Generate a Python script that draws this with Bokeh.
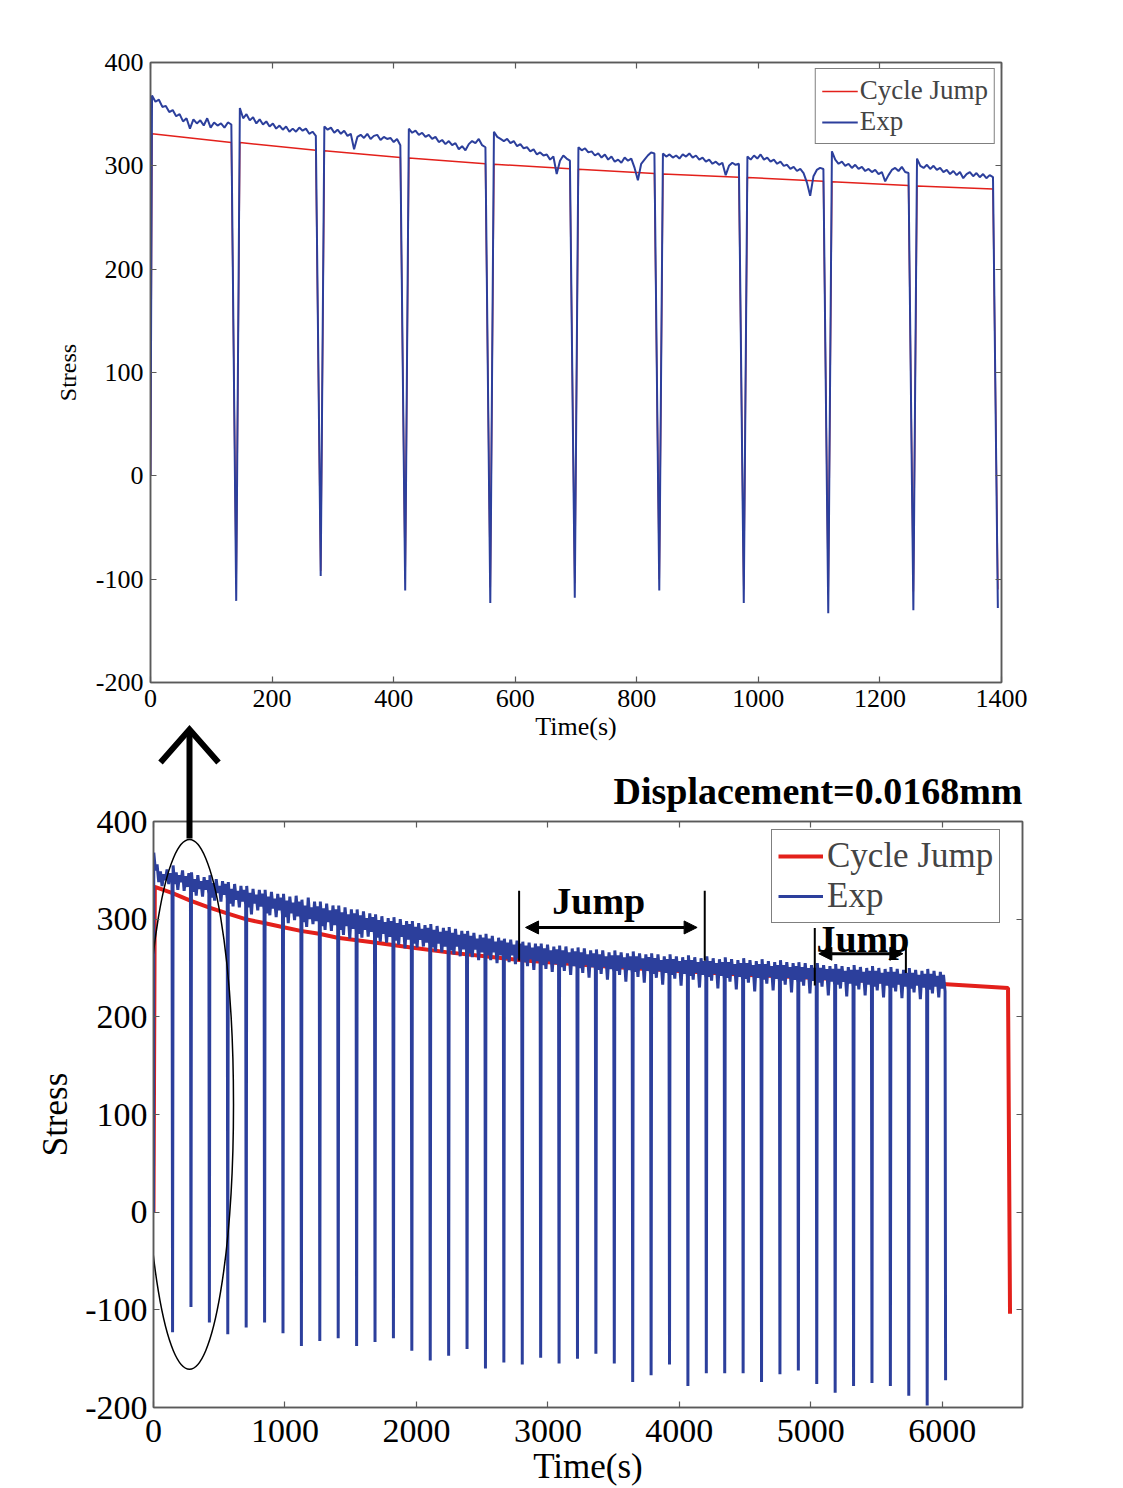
import numpy as np
from bokeh.plotting import figure
from bokeh.models import (Range1d, FixedTicker, LinearAxis, Legend, LegendItem,
                          Arrow, NormalHead, Label)
from bokeh.embed import file_html
from bokeh.resources import INLINE

FONT = "Liberation Serif"
BLUE = "#2C3F9C"
RED = "#E3201B"
AXC = "#5a5a5a"

# ---------------- upper panel data (0-1400 s) ----------------
top_spike_t = [141, 280, 419, 559, 698, 837, 976, 1115, 1255, 1394]
top_spike_min = [-121, -97, -111, -123, -118, -111, -123, -133, -130, -128]
top_red_spike_min = [-105, -92, -100, -108, -104, -100, -110, -115, -112, -110]
top_red_start = [331, 322.5, 314.5, 307.5, 301.6, 296.8, 292, 288.7, 284.5, 280.6]
top_red_end = [322.6, 315, 308, 302, 297.2, 292.5, 289, 285, 281, 277.5]
top_exp_cycles = [
    [368, 362, 364, 357, 358, 352, 354, 348, 350, 343, 346, 336, 345, 341, 344, 339, 346, 337, 342, 339, 341, 337, 342, 340],
    [356, 346, 350, 344, 347, 341, 345, 340, 343, 338, 341, 336, 339, 335, 338, 333, 336, 333, 337, 334, 336, 331, 333, 329],
    [338, 335, 337, 332, 335, 331, 334, 329, 331, 316, 328, 330, 327, 331, 326, 329, 330, 325, 328, 326, 327, 323, 326, 320],
    [336, 332, 334, 330, 332, 328, 330, 326, 328, 323, 325, 321, 324, 320, 322, 316, 319, 315, 321, 324, 322, 326, 320, 318],
    [333, 328, 326, 324, 326, 322, 324, 319, 321, 317, 318, 314, 316, 311, 313, 310, 311, 306, 309, 292, 305, 310, 307, 305],
    [318, 315, 317, 313, 314, 310, 312, 308, 311, 306, 309, 304, 306, 303, 308, 305, 307, 298, 286, 302, 306, 310, 313, 312],
    [312, 309, 311, 308, 310, 307, 311, 309, 312, 308, 310, 306, 308, 304, 306, 302, 304, 301, 303, 291, 300, 303, 301, 302],
    [309, 306, 310, 307, 311, 306, 308, 304, 306, 302, 304, 300, 301, 297, 299, 295, 297, 293, 284, 271, 290, 296, 298, 297],
    [314, 306, 302, 304, 300, 302, 298, 301, 297, 299, 295, 297, 294, 296, 292, 294, 285, 291, 296, 298, 295, 299, 294, 293],
    [307, 300, 298, 301, 297, 300, 296, 298, 294, 296, 292, 295, 291, 294, 288, 292, 294, 290, 293, 289, 292, 288, 291, 289],
]

# ---------------- lower panel data (0-6600 s) ----------------
bot_spike_t = [145, 285, 425, 565, 705, 845, 985, 1125, 1265, 1405, 1545, 1685, 1825, 1965,
               2105, 2245, 2385, 2525, 2665, 2805, 2945, 3085, 3225, 3365, 3505, 3645, 3785,
               3925, 4065, 4205, 4345, 4485, 4625, 4765, 4905, 5045, 5185, 5325, 5465, 5605,
               5745, 5885, 6025]
bot_spike_min = [-123, -97, -113, -125, -118, -113, -124, -137, -132, -129, -137, -133, -129,
                 -142, -152, -147, -140, -160, -154, -156, -149, -155, -150, -145, -155, -174,
                 -167, -156, -178, -165, -165, -165, -174, -166, -162, -176, -185, -178, -175,
                 -178, -188, -198, -172]
bot_exp_cycles = [
    [368, 350, 356, 338, 349, 334, 346, 340, 351, 336, 347, 341],
    [355, 336, 348, 330, 345, 338, 350, 329, 344, 333, 347, 332],
    [348, 328, 341, 324, 345, 331, 339, 323, 343, 330, 340, 326],
    [345, 322, 337, 319, 341, 327, 334, 318, 339, 325, 336, 321],
    [338, 316, 331, 313, 336, 320, 329, 312, 334, 318, 330, 315],
    [334, 312, 327, 305, 331, 316, 325, 309, 330, 313, 326, 310],
    [330, 306, 323, 304, 328, 311, 321, 302, 326, 309, 322, 305],
    [326, 302, 319, 296, 323, 306, 317, 299, 324, 303, 318, 300],
    [320, 297, 314, 292, 322, 300, 312, 295, 318, 298, 313, 296],
    [318, 293, 311, 289, 316, 297, 309, 288, 314, 294, 310, 292],
    [314, 289, 307, 284, 312, 293, 305, 280, 310, 290, 306, 288],
    [310, 285, 304, 281, 308, 289, 301, 282, 306, 287, 302, 284],
    [305, 281, 299, 277, 303, 285, 297, 276, 301, 282, 298, 280],
    [302, 278, 296, 274, 300, 282, 294, 270, 298, 279, 295, 277],
    [298, 275, 292, 271, 296, 279, 290, 272, 294, 276, 291, 274],
    [295, 271, 289, 267, 293, 275, 287, 266, 291, 272, 288, 270],
    [292, 268, 286, 264, 290, 272, 284, 262, 288, 269, 285, 267],
    [288, 265, 283, 261, 286, 269, 280, 258, 284, 266, 281, 264],
    [285, 263, 280, 258, 283, 266, 277, 255, 281, 263, 278, 261],
    [280, 259, 276, 256, 279, 263, 274, 254, 278, 260, 275, 258],
    [277, 256, 273, 252, 276, 259, 271, 248, 275, 257, 272, 255],
    [275, 253, 270, 249, 274, 257, 268, 246, 272, 254, 269, 252],
    [273, 251, 268, 247, 272, 255, 266, 243, 270, 252, 267, 250],
    [271, 250, 266, 245, 270, 253, 264, 240, 268, 251, 265, 248],
    [269, 248, 264, 244, 268, 251, 262, 238, 266, 249, 263, 246],
    [268, 247, 263, 243, 266, 250, 261, 236, 265, 248, 262, 245],
    [267, 246, 262, 241, 265, 249, 260, 235, 264, 247, 261, 244],
    [265, 244, 260, 240, 264, 247, 258, 233, 262, 245, 259, 242],
    [264, 243, 259, 239, 262, 246, 257, 232, 261, 244, 258, 241],
    [263, 242, 258, 238, 261, 245, 256, 230, 260, 243, 257, 240],
    [262, 241, 257, 237, 260, 244, 255, 229, 259, 242, 256, 239],
    [261, 240, 256, 236, 259, 243, 254, 228, 258, 241, 255, 238],
    [260, 239, 255, 235, 258, 242, 253, 226, 257, 240, 254, 237],
    [259, 238, 254, 234, 257, 241, 252, 227, 256, 239, 253, 236],
    [258, 237, 253, 233, 256, 240, 251, 225, 255, 238, 252, 235],
    [256, 236, 251, 232, 255, 239, 250, 224, 253, 237, 250, 234],
    [255, 235, 250, 231, 253, 238, 249, 222, 252, 236, 249, 233],
    [254, 233, 249, 229, 252, 236, 247, 221, 251, 234, 248, 231],
    [253, 232, 248, 228, 251, 235, 246, 222, 250, 233, 247, 230],
    [252, 231, 247, 227, 250, 234, 245, 220, 249, 232, 246, 229],
    [251, 230, 246, 226, 249, 233, 244, 219, 248, 231, 245, 228],
    [250, 229, 245, 225, 248, 232, 243, 218, 247, 230, 244, 227],
    [249, 228, 244, 224, 247, 231, 242, 220, 246, 229, 243, 226],
]
bot_red_t = [0, 10, 140, 280, 420, 560, 700, 840, 980, 1120, 1260, 1400, 1680, 1960, 2240,
             2520, 2800, 3080, 3500, 4000, 4500, 5000, 5500, 6000, 6500, 6515]
bot_red = [0, 333, 327, 319, 312, 306, 300, 296, 292, 288, 285, 281, 276, 271, 266,
           262, 258, 255, 251, 247, 243, 240, 236.5, 233.5, 229.5, -104]

# tick labels
top_xticks = [0, 200, 400, 600, 800, 1000, 1200, 1400]
bot_xticks = [0, 1000, 2000, 3000, 4000, 5000, 6000]
yticks = [-200, -100, 0, 100, 200, 300, 400]
ytick_labels = ["-200", "-100", "0", "100", "200", "300", "400"]

# annotation anchors (data units of the lower panel)
ELLIPSE = dict(x=274, y=110.3, w=669, h=542.6)
JUMP1 = dict(tx=3387, ty=319, ax0=2830, ax1=4135, ay=291.5, b0=2781, b1=4193, b_lo=257.5, b_hi=329)
JUMP2 = dict(tx=5396, ty=280, ax0=5061, ax1=5700, ay=264.6, b0=5030, b0lo=232, b0hi=291,
             b1=5723, b1lo=245, b1hi=281)
# overlay (pixel-unit canvas) holding the big "zoom" arrow that crosses both panels
OV_LEFT, OV_TOP, OV_W, OV_H = 149, 722, 80, 120
ARROW_X, ARROW_BASE, ARROW_TIP, WING_Y, WING_DX = 40, 4, 113, 80, 29


def build_exp(spike_t, spike_min, cycles, t_first, lead, lag):
    xs, ys = [0.0], [0.0]
    for k, vals in enumerate(cycles):
        t0 = t_first if k == 0 else spike_t[k - 1] + lag
        t1 = spike_t[k] - lead
        xs.extend(np.linspace(t0, t1, len(vals)).tolist())
        ys.extend(vals)
        xs.append(spike_t[k])
        ys.append(spike_min[k])
    return xs, ys


def style(p, tick_fs, xlabel_fs, ylabel_fs, xticks, tick_std, xlab_std, ylab_std, ytick_std):
    p.background_fill_color = "white"
    p.border_fill_color = "white"
    p.outline_line_color = AXC
    p.outline_line_width = 1.5
    p.xgrid.visible = False
    p.ygrid.visible = False
    p.xaxis.ticker = FixedTicker(ticks=xticks)
    p.yaxis.ticker = FixedTicker(ticks=yticks)
    p.yaxis.major_label_overrides = dict(zip(yticks, ytick_labels))
    for ax in p.xaxis + p.yaxis:
        ax.axis_line_color = AXC
        ax.axis_line_width = 1.5
        ax.major_tick_line_color = AXC
        ax.major_tick_line_width = 1.2
        ax.major_tick_in = 6
        ax.major_tick_out = 0
        ax.minor_tick_line_color = None
        ax.major_label_text_font = FONT
        ax.major_label_text_font_size = tick_fs
        ax.major_label_text_color = "black"
        ax.axis_label_text_font = FONT
        ax.axis_label_text_font_style = "normal"
        ax.axis_label_text_color = "black"
    p.xaxis.axis_label = "Time(s)"
    p.yaxis.axis_label = "Stress"
    p.xaxis.axis_label_text_font_size = xlabel_fs
    p.yaxis.axis_label_text_font_size = ylabel_fs
    p.xaxis.major_label_standoff = tick_std
    p.yaxis.major_label_standoff = ytick_std
    p.xaxis.axis_label_standoff = xlab_std
    p.yaxis.axis_label_standoff = ylab_std
    # mirrored inward ticks on the top and right sides
    for ticks, place in ((xticks, "above"), (yticks, "right")):
        ax = LinearAxis(ticker=FixedTicker(ticks=ticks))
        ax.axis_line_color = AXC
        ax.axis_line_width = 1.5
        ax.major_tick_line_color = AXC
        ax.major_tick_line_width = 1.2
        ax.major_tick_in = 6
        ax.major_tick_out = 0
        ax.minor_tick_line_color = None
        ax.major_label_text_color = None
        ax.major_label_text_font_size = "1px"
        ax.major_label_standoff = 0
        p.add_layout(ax, place)


# ---------------- upper figure ----------------
p1 = figure(width=1123, height=745, x_range=Range1d(0, 1400), y_range=Range1d(-200, 400),
            output_backend="svg", toolbar_location=None,
            min_border_left=150, min_border_right=122, min_border_top=62, min_border_bottom=63)
style(p1, "26px", "26px", "24px", top_xticks, 7, 2, 12, 7)

rx, ry = [0.0], [0.0]
for k in range(len(top_spike_t)):
    t0 = 2.5 if k == 0 else top_spike_t[k - 1] + 6
    t1 = top_spike_t[k] - 8
    rx += [t0, t1, top_spike_t[k]]
    ry += [top_red_start[k], top_red_end[k], top_red_spike_min[k]]
r1 = p1.line(rx, ry, line_color=RED, line_width=1.5)
bx, by = build_exp(top_spike_t, top_spike_min, top_exp_cycles, 2.5, 8, 6)
b1 = p1.line(bx, by, line_color=BLUE, line_width=2)

leg1 = Legend(items=[LegendItem(label="Cycle Jump", renderers=[r1]),
                     LegendItem(label="Exp", renderers=[b1])],
              location="top_right", margin=6, padding=6, spacing=0,
              glyph_width=36, glyph_height=30, label_height=30, label_standoff=2,
              label_text_font=FONT, label_text_font_size="27px",
              border_line_color="black", border_line_width=1,
              background_fill_color="white", background_fill_alpha=1)
p1.add_layout(leg1)

# ---------------- lower figure ----------------
p2 = figure(width=1123, height=743, x_range=Range1d(0, 6610), y_range=Range1d(-200, 400),
            output_backend="svg", toolbar_location=None,
            min_border_left=153, min_border_right=101, min_border_top=76, min_border_bottom=81)
style(p2, "34px", "35px", "35px", bot_xticks, 12, 2, 7, 6)
p2.title.text = "Displacement=0.0168mm"
p2.title.align = "right"
p2.title.text_font = FONT
p2.title.text_font_style = "bold"
p2.title.text_font_size = "38px"
p2.title.text_color = "black"
p2.title.standoff = 19

r2 = p2.line(bot_red_t, bot_red, line_color=RED, line_width=4)
bx2, by2 = build_exp(bot_spike_t, bot_spike_min, bot_exp_cycles, 2, 4, 4)
b2 = p2.line(bx2, by2, line_color=BLUE, line_width=3)

leg2 = Legend(items=[LegendItem(label="Cycle Jump", renderers=[r2]),
                     LegendItem(label="Exp", renderers=[b2])],
              location=(618, 484), padding=6, spacing=0,
              glyph_width=45, glyph_height=40, label_height=40, label_standoff=4,
              label_text_font=FONT, label_text_font_size="35px",
              border_line_color="black", border_line_width=1.2,
              background_fill_color="white", background_fill_alpha=1)
p2.add_layout(leg2)

p2.ellipse(x=ELLIPSE["x"], y=ELLIPSE["y"], width=ELLIPSE["w"], height=ELLIPSE["h"],
           fill_color=None, line_color="black", line_width=1.5)

# Jump annotations
p2.segment(x0=[JUMP1["b0"], JUMP1["b1"], JUMP2["b0"], JUMP2["b1"]],
           y0=[JUMP1["b_lo"], JUMP1["b_lo"], JUMP2["b0lo"], JUMP2["b1lo"]],
           x1=[JUMP1["b0"], JUMP1["b1"], JUMP2["b0"], JUMP2["b1"]],
           y1=[JUMP1["b_hi"], JUMP1["b_hi"], JUMP2["b0hi"], JUMP2["b1hi"]],
           line_color="black", line_width=2)
for j in (JUMP1, JUMP2):
    p2.add_layout(Arrow(start=NormalHead(size=13, fill_color="black", line_color="black"),
                        end=NormalHead(size=13, fill_color="black", line_color="black"),
                        x_start=j["ax0"], y_start=j["ay"], x_end=j["ax1"], y_end=j["ay"],
                        line_width=3, line_color="black"))
    p2.add_layout(Label(x=j["tx"], y=j["ty"], text="Jump", text_align="center",
                        text_baseline="alphabetic", text_font=FONT, text_font_style="bold",
                        text_font_size="38px", text_color="black"))

# ---------------- transparent overlay with the big arrow ----------------
p3 = figure(width=OV_W, height=OV_H, x_range=Range1d(0, OV_W), y_range=Range1d(0, OV_H),
            x_axis_location=None, y_axis_location=None, min_border=0,
            toolbar_location=None, output_backend="svg",
            background_fill_color=None, border_fill_color=None, outline_line_color=None,
            styles={"position": "absolute", "left": f"{OV_LEFT}px", "top": f"{OV_TOP}px",
                    "z-index": "10"})
p3.grid.visible = False
p3.line([ARROW_X, ARROW_X], [ARROW_BASE, ARROW_TIP], line_color="black", line_width=6)
p3.line([ARROW_X - WING_DX, ARROW_X, ARROW_X + WING_DX], [WING_Y, ARROW_TIP, WING_Y],
        line_color="black", line_width=6, line_join="miter")

open("out.html", "w").write(file_html([p1, p2, p3], INLINE))
